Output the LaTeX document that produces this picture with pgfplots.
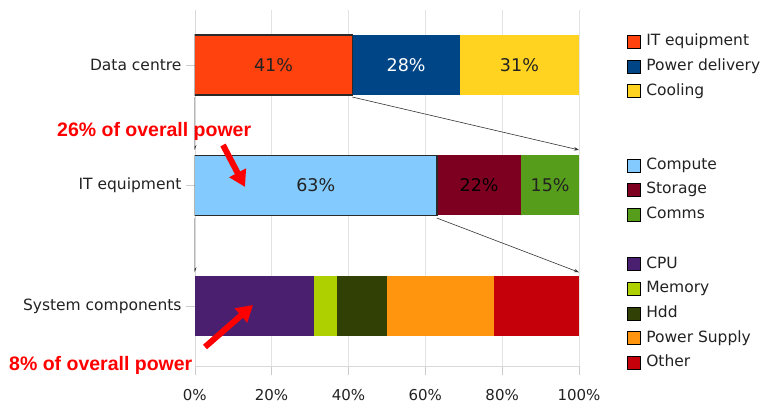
\documentclass[border=0pt]{standalone}
\usepackage{fontspec}
\setmainfont{DejaVu Sans}
\newfontfamily\notefont{Liberation Sans}
\usepackage{pgfplots}
\pgfplotsset{compat=1.18}
\usetikzlibrary{arrows.meta}

% LibreOffice-style palette
\definecolor{cITeq}{HTML}{FF420E}
\definecolor{cPower}{HTML}{004586}
\definecolor{cCool}{HTML}{FFD320}
\definecolor{cCompute}{HTML}{83CAFF}
\definecolor{cStorage}{HTML}{7E0021}
\definecolor{cComms}{HTML}{579D1C}
\definecolor{cCPU}{HTML}{4B1F6F}
\definecolor{cMem}{HTML}{AECF00}
\definecolor{cHdd}{HTML}{314004}
\definecolor{cPSU}{HTML}{FF950E}
\definecolor{cOther}{HTML}{C5000B}
\definecolor{txt}{HTML}{222222}
\definecolor{edge}{HTML}{2A2A2A}

\tikzset{
  seglabel/.style={font=\fontsize{17.5}{20}\selectfont, text=txt},
  drill/.style={draw=black!80, line width=0.6pt, -{Stealth[length=5pt,width=3.5pt]}},
  callout/.style={draw=red, line width=6pt, -{Triangle[length=16pt,width=18pt]}},
  callnote/.style={text=red, inner sep=0pt, anchor=base west,
    font=\notefont\bfseries\fontsize{19.5}{22}\selectfont},
}

\pgfplotsset{
  rowaxis/.style={
    at={(194.7pt,37.7pt)}, anchor=south west,
    scale only axis, width=384.3pt, height=356.3pt,
    xmin=0, xmax=100, ymin=-0.5, ymax=2.456,
    bar width=60pt,
  },
  swatch/.style={legend image code/.code={\fill[##1] (0pt,-6.5pt) rectangle (13pt,6.5pt);}},
}

\begin{document}
\begin{tikzpicture}
\useasboundingbox (0pt,0pt) rectangle (765pt,404pt);

\begin{axis}[
  rowaxis,
  xbar stacked,
  axis x line*=bottom, axis y line*=left,
  axis line style={gray!30},
  tick align=outside, major tick length=9pt,
  tick style={gray!40},
  xmajorgrids, grid style={gray!22},
  xtick={0,20,40,60,80,100},
  xticklabels={0\%,20\%,40\%,60\%,80\%,100\%},
  ytick={0,1,2},
  yticklabels={System components,IT equipment,Data centre},
  ticklabel style={text=txt},
  xticklabel style={font=\fontsize{15}{18}\selectfont, inner sep=4pt, yshift=-10pt},
  yticklabel style={font=\fontsize{15.5}{18}\selectfont, inner sep=4pt},
]
% rows: 2 = Data centre, 1 = IT equipment, 0 = System components
\addplot[fill=cITeq, draw=none]    coordinates {(41,2) (0,1) (0,0)};
\addplot[fill=cPower, draw=none]   coordinates {(28,2) (0,1) (0,0)};
\addplot[fill=cCool, draw=none]    coordinates {(31,2) (0,1) (0,0)};
\addplot[fill=cCompute, draw=none] coordinates {(0,2) (63,1) (0,0)};
\addplot[fill=cStorage, draw=none] coordinates {(0,2) (22,1) (0,0)};
\addplot[fill=cComms, draw=none]   coordinates {(0,2) (15,1) (0,0)};
\addplot[fill=cCPU, draw=none]     coordinates {(0,2) (0,1) (31,0)};
\addplot[fill=cMem, draw=none]     coordinates {(0,2) (0,1) (6,0)};
\addplot[fill=cHdd, draw=none]     coordinates {(0,2) (0,1) (13,0)};
\addplot[fill=cPSU, draw=none]     coordinates {(0,2) (0,1) (28,0)};
\addplot[fill=cOther, draw=none]   coordinates {(0,2) (0,1) (22,0)};

% centres of the labelled segments
\coordinate (itq)  at (axis cs:20.5,2);
\coordinate (pwr)  at (axis cs:55,2);
\coordinate (cool) at (axis cs:84.5,2);
\coordinate (cmp)  at (axis cs:31.5,1);
\coordinate (sto)  at (axis cs:74,1);
\coordinate (com)  at (axis cs:92.5,1);

% drill-down arrows between rows
\draw[drill] (axis cs:0,1.734) -- (axis cs:0,1.295);
\draw[drill] (axis cs:41,1.734) -- (axis cs:100,1.295);
\draw[drill] (axis cs:0,0.73) -- (axis cs:0,0.28);
\draw[drill] (axis cs:63,0.73) -- (axis cs:100,0.28);
\end{axis}

% outlines of the expanded segments, and the grouped legend
\begin{axis}[
  rowaxis, hide axis,
  xbar, bar shift=0pt,
  legend style={
    at={(1.124,0.931)}, anchor=north west,
    draw=none, fill=none, inner sep=0pt,
    font=\fontsize{15.5}{18}\selectfont, text=txt,
    row sep=10.7pt,
    nodes={inner sep=0pt, text height=11pt, text depth=3pt},
    /tikz/every odd column/.append style={column sep=6pt},
  },
  legend cell align=left,
]
\addplot[fill=none, draw=edge, line width=1.4pt, forget plot] coordinates {(41,2)};
\addplot[fill=none, draw=edge, line width=1.4pt, forget plot] coordinates {(63,1)};
\addlegendimage{swatch, fill=cITeq}    \addlegendentry{IT equipment}
\addlegendimage{swatch, fill=cPower}   \addlegendentry{Power delivery}
\addlegendimage{swatch, fill=cCool}    \addlegendentry{Cooling}
\addlegendimage{empty legend}          \addlegendentry{}
\addlegendimage{empty legend}          \addlegendentry{}
\addlegendimage{swatch, fill=cCompute} \addlegendentry{Compute}
\addlegendimage{swatch, fill=cStorage} \addlegendentry{Storage}
\addlegendimage{swatch, fill=cComms}   \addlegendentry{Comms}
\addlegendimage{empty legend}          \addlegendentry{}
\addlegendimage{swatch, fill=cCPU}     \addlegendentry{CPU}
\addlegendimage{swatch, fill=cMem}     \addlegendentry{Memory}
\addlegendimage{swatch, fill=cHdd}     \addlegendentry{Hdd}
\addlegendimage{swatch, fill=cPSU}     \addlegendentry{Power Supply}
\addlegendimage{swatch, fill=cOther}   \addlegendentry{Other}
\end{axis}

% segment values
\node[seglabel] at (itq) {41\%};
\node[seglabel, text=white] at (pwr) {28\%};
\node[seglabel] at (cool) {31\%};
\node[seglabel] at (cmp) {63\%};
\node[seglabel, text=black] at (sto) {22\%};
\node[seglabel] at (com) {15\%};

% call-outs
\draw[callout] (223pt,259pt) -- (245pt,217pt);
\draw[callout] (205pt,57pt) -- (253pt,99pt);
\node[callnote] at (57pt,267pt) {26\% of overall power};
\node[callnote] at (9pt,34pt) {8\% of overall power};
\end{tikzpicture}
\end{document}
